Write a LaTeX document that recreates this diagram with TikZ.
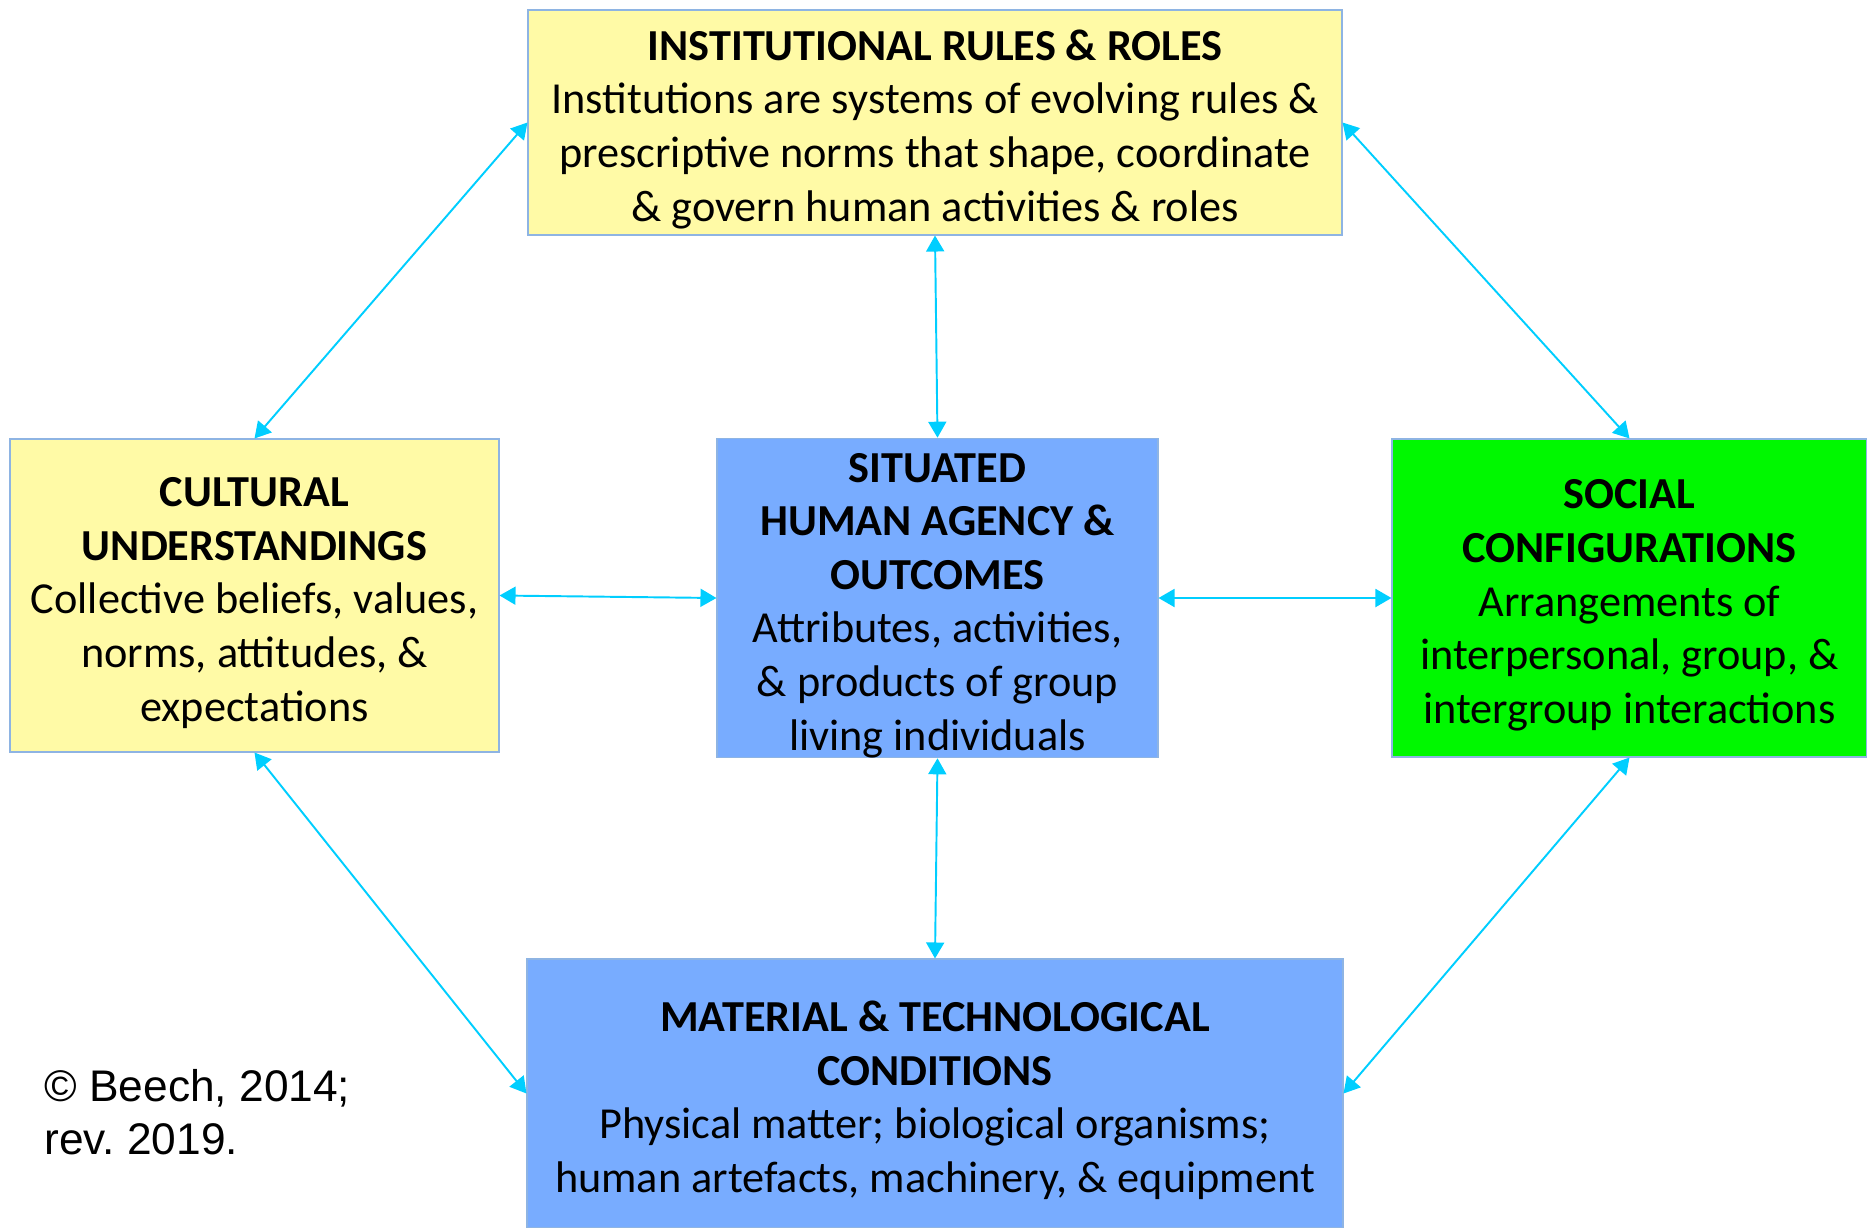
\documentclass[tikz,border=0pt]{standalone}
\usepackage{fontspec}
\setmainfont{Carlito}
\newfontfamily\notefont{Liberation Sans}
\definecolor{ruleyellow}{RGB}{255, 250, 166}
\definecolor{agentblue}{RGB}{120, 172, 255}
\definecolor{socgreen}{RGB}{0, 248, 0}
\definecolor{linkcyan}{RGB}{0, 206, 255}
\definecolor{edgeblue}{RGB}{142, 180, 227}
\usepackage{tikz}
\usetikzlibrary{arrows.meta, positioning}
\newcommand{\boxstrut}{\rule{0pt}{25pt}}

\begin{document}
\begin{tikzpicture}[
  bx/.style={draw=edgeblue, line width=0.6pt, fill=#1, align=center, inner sep=0pt,
    font=\fontsize{25.2}{30.5}\selectfont},
  lk/.style={linkcyan, line width=1.1pt, {Triangle[length=0.32cm, width=0.36cm]}-{Triangle[length=0.32cm, width=0.36cm]}},
]
  \useasboundingbox (0,0) rectangle (37.34,-24.56);
  % Boxes
  \node[bx=ruleyellow, minimum width=16.28cm, minimum height=4.5cm] (inst) at (18.7,-2.45)
    {\boxstrut\textbf{INSTITUTIONAL RULES \& ROLES}\\Institutions are systems of evolving rules \&\\prescriptive norms that shape, coordinate\\\& govern human activities \& roles};
  \node[bx=ruleyellow, minimum width=9.78cm, minimum height=6.26cm] (cult) at (5.09,-11.91)
    {\boxstrut\textbf{CULTURAL}\\\textbf{UNDERSTANDINGS}\\Collective beliefs, values,\\norms, attitudes, \&\\expectations};
  \node[bx=agentblue, minimum width=8.82cm, minimum height=6.36cm] (agency) at (18.75,-11.96)
    {\boxstrut\textbf{SITUATED}\\\textbf{HUMAN AGENCY \&}\\\textbf{OUTCOMES}\\Attributes, activities,\\\& products of group\\living individuals};
  \node[bx=socgreen, minimum width=9.5cm, minimum height=6.36cm] (social) at (32.59,-11.96)
    {\boxstrut\textbf{SOCIAL}\\\textbf{CONFIGURATIONS}\\Arrangements of\\interpersonal, group, \&\\intergroup interactions};
  \node[bx=agentblue, minimum width=16.32cm, minimum height=5.38cm] (mater) at (18.7,-21.87)
    {\boxstrut\textbf{MATERIAL \& TECHNOLOGICAL}\\\textbf{CONDITIONS}\\Physical matter; biological organisms;\\human artefacts, machinery, \& equipment};
  % Note
  \node[anchor=west, inner sep=0pt, align=left, font=\notefont\fontsize{25.2}{30.4}\selectfont] (note) at (0.88,-22.24)
    {© Beech, 2014;\\rev.\ 2019.};
  % Links
  \draw[lk] (inst.west) -- (cult.north);
  \draw[lk] (inst.east) -- (social.north);
  \draw[lk] (inst.south) -- (agency.north);
  \draw[lk] (cult.east) -- (agency.west);
  \draw[lk] (agency.east) -- (social.west);
  \draw[lk] (agency.south) -- (mater.north);
  \draw[lk] (cult.south) -- (mater.west);
  \draw[lk] (social.south) -- (mater.east);
\end{tikzpicture}
\end{document}
